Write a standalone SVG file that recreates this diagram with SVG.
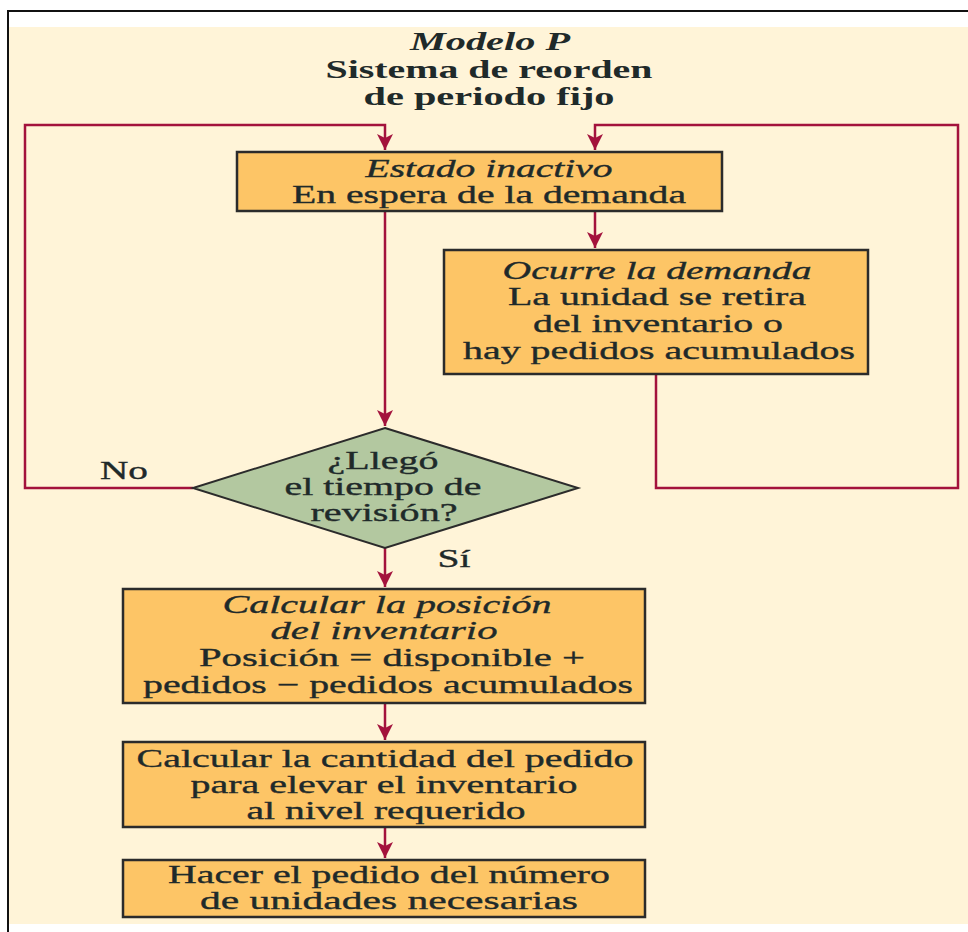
<svg xmlns="http://www.w3.org/2000/svg" width="968" height="932" viewBox="0 0 968 932">
<defs>
<marker id="ah" markerUnits="userSpaceOnUse" markerWidth="16" markerHeight="20" refX="16" refY="8" orient="auto">
<path d="M0,0 L16,8 L0,16 L4,8 Z" fill="#a3123c"/>
</marker>
<style>
text{font-family:"Liberation Serif","Times New Roman",serif;font-size:25px;fill:#1f2a2a;stroke:#1f2a2a;stroke-width:0.35;text-anchor:middle}
.t{font-weight:bold;font-size:25px;stroke-width:0}
.i{font-style:italic}
.box{fill:#fdc566;stroke:#2b2b2b;stroke-width:2.5}
.dia{fill:#b3c8a0;stroke:#2b2b2b;stroke-width:2}
.c{fill:none;stroke:#a3123c;stroke-width:2.5}
</style>
</defs>
<rect x="0" y="0" width="968" height="932" fill="#ffffff"/>
<rect x="8" y="27" width="960" height="897" fill="#fff4d8"/>
<path d="M8,932 V11 H968" fill="none" stroke="#111" stroke-width="2"/>
<g id="title">
<text class="t i" x="490" y="50" textLength="160" lengthAdjust="spacingAndGlyphs">Modelo P</text>
<text class="t" x="489" y="78" textLength="327" lengthAdjust="spacingAndGlyphs">Sistema de reorden</text>
<text class="t" x="489" y="105" textLength="251" lengthAdjust="spacingAndGlyphs">de periodo fijo</text>
</g>
<g id="connectors">
<path class="c" d="M193,488 H25 V125 H385 V150" marker-end="url(#ah)"/>
<path class="c" d="M656,374 V488 H958 V125 H595 V150" marker-end="url(#ah)"/>
<path class="c" d="M595,211 V248" marker-end="url(#ah)"/>
<path class="c" d="M385,211 V426" marker-end="url(#ah)"/>
<path class="c" d="M385,548 V587" marker-end="url(#ah)"/>
<path class="c" d="M385,703 V740" marker-end="url(#ah)"/>
<path class="c" d="M385,827 V858" marker-end="url(#ah)"/>
</g>
<g id="n1">
<rect class="box" x="237" y="152" width="485" height="59"/>
<text class="i" x="489" y="177" textLength="247" lengthAdjust="spacingAndGlyphs">Estado inactivo</text>
<text x="489" y="203" textLength="394" lengthAdjust="spacingAndGlyphs">En espera de la demanda</text>
</g>
<g id="n2">
<rect class="box" x="444" y="250" width="424" height="124"/>
<text class="i" x="657" y="279" textLength="309" lengthAdjust="spacingAndGlyphs">Ocurre la demanda</text>
<text x="657" y="305" textLength="298" lengthAdjust="spacingAndGlyphs">La unidad se retira</text>
<text x="658" y="332" textLength="250" lengthAdjust="spacingAndGlyphs">del inventario o</text>
<text x="659" y="359" textLength="392" lengthAdjust="spacingAndGlyphs">hay pedidos acumulados</text>
</g>
<g id="n3">
<polygon class="dia" points="385,428 578,488 385,548 193,488"/>
<text x="383" y="469" textLength="111" lengthAdjust="spacingAndGlyphs">¿Llegó</text>
<text x="383" y="495" textLength="197" lengthAdjust="spacingAndGlyphs">el tiempo de</text>
<text x="384" y="521" textLength="147" lengthAdjust="spacingAndGlyphs">revisión?</text>
</g>
<g id="labels">
<text x="124" y="479" textLength="48" lengthAdjust="spacingAndGlyphs">No</text>
<text x="454" y="567" textLength="33" lengthAdjust="spacingAndGlyphs">Sí</text>
</g>
<g id="n4">
<rect class="box" x="123" y="589" width="522" height="114"/>
<text class="i" x="387" y="613" textLength="329" lengthAdjust="spacingAndGlyphs">Calcular la posición</text>
<text class="i" x="384" y="639" textLength="227" lengthAdjust="spacingAndGlyphs">del inventario</text>
<text x="392" y="666" textLength="386" lengthAdjust="spacingAndGlyphs">Posición = disponible +</text>
<text x="388" y="693" textLength="490" lengthAdjust="spacingAndGlyphs">pedidos − pedidos acumulados</text>
</g>
<g id="n5">
<rect class="box" x="123" y="742" width="522" height="85"/>
<text x="385" y="767" textLength="497" lengthAdjust="spacingAndGlyphs">Calcular la cantidad del pedido</text>
<text x="384" y="793" textLength="387" lengthAdjust="spacingAndGlyphs">para elevar el inventario</text>
<text x="386" y="819" textLength="279" lengthAdjust="spacingAndGlyphs">al nivel requerido</text>
</g>
<g id="n6">
<rect class="box" x="123" y="860" width="522" height="57"/>
<text x="389" y="883" textLength="442" lengthAdjust="spacingAndGlyphs">Hacer el pedido del número</text>
<text x="389" y="909" textLength="378" lengthAdjust="spacingAndGlyphs">de unidades necesarias</text>
</g>
</svg>
